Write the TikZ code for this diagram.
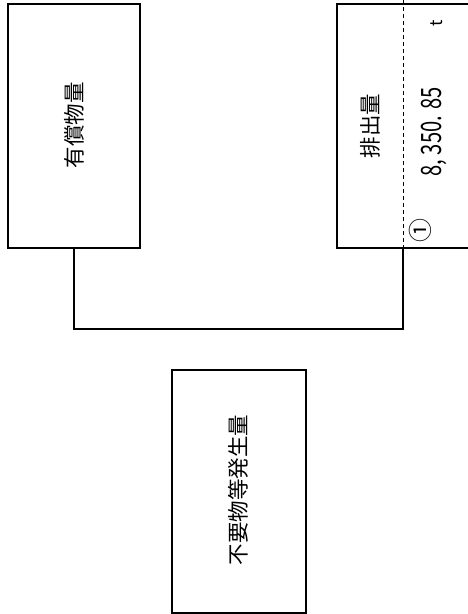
\documentclass[tikz,border=0pt]{standalone}
\usepackage{fontspec}
\setmainfont{Noto Sans CJK JP}
\usetikzlibrary{calc}

\tikzset{
  blockbox/.style={draw,line width=1.4pt,minimum width=132pt,minimum height=244pt,inner sep=0pt},
  vlabel/.style={rotate=90,font=\fontsize{21.5pt}{21.5pt}\selectfont,inner sep=0pt}
}

\begin{document}
\begin{tikzpicture}[x=1pt,y=-1pt]
    \useasboundingbox (0,0) rectangle (467,614);

    \node[blockbox] (yusho) at (74,126) {};
    \node[blockbox,minimum width=160pt] (haishutsu) at (417,126) {};
    \node[blockbox,minimum width=134pt,minimum height=243pt] (fuyo) at (239,491.5) {};

    \node[vlabel] (yushotext) at (74,125) {有償物量};
    \node[vlabel] (haishutsutext) at (370,126) {排出量};
    \node[vlabel] (fuyotext) at (238,490) {不要物等発生量};

    \node[rotate=90,inner sep=0pt] (amount) at (434,132)
      {\scalebox{0.72}[1]{\fontsize{28pt}{28pt}\selectfont 8, 350. 85}};
    \node[rotate=90,inner sep=0pt,font=\fontsize{17pt}{17pt}\selectfont] (unit) at (437,23) {t};
    \node[rotate=90,inner sep=0pt,font=\fontsize{24pt}{24pt}\selectfont] (num) at (420,230) {①};

    \coordinate (dtop) at (403,-2);
    \coordinate (bend) at (403,329);
    \draw[line width=0.9pt,dash pattern=on 4pt off 3pt] (bend |- haishutsu.south) -- (dtop);
    \draw[line width=1.1pt] (yusho.south) |- (bend) -- (bend |- haishutsu.south);
  \end{tikzpicture}
\end{document}
